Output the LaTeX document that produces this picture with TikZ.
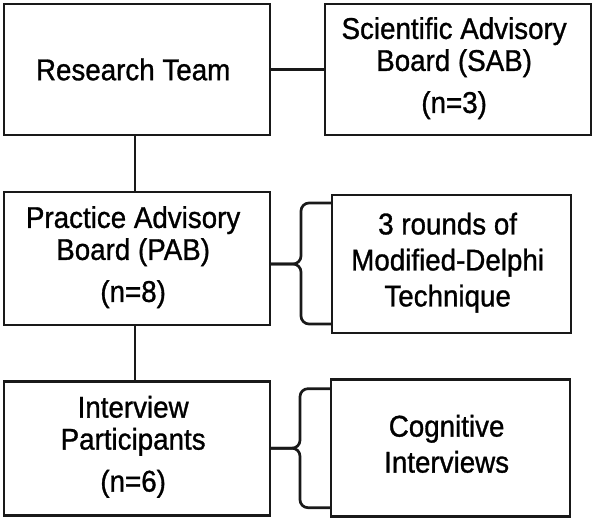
\documentclass[tikz,border=0pt]{standalone}
\usepackage{fontspec}
\setmainfont{Liberation Sans}[FakeStretch=0.925, FakeBold=1]
\usetikzlibrary{matrix}
\newcommand{\boxlines}[1]{\begin{tabular}{@{}c@{}}#1\end{tabular}}

\begin{document}
\begin{tikzpicture}[
  panel/.style={draw=black!90, line width=2.7pt, align=center, inner sep=0pt, anchor=center,
    font=\fontsize{30pt}{32pt}\selectfont},
  link/.style={draw=black!90, line width=2.7pt},
  bracket/.style={draw=black!90, line width=2.7pt, rounded corners=8pt}
]
\useasboundingbox (0,0) rectangle (594pt,-521pt);
\matrix (m) [matrix of nodes, anchor=north west, inner sep=0pt, outer sep=0pt,
  row sep=44pt, column sep=52.3pt, nodes={panel}] at (2.65pt,-2.65pt)
{
	|[minimum width=266pt, minimum height=131pt]| Research Team &
	|[minimum width=266pt, minimum height=131pt]| \boxlines{Scientific Advisory\\ Board (SAB)\\[10pt] (n=3)} \\[10.3pt]
	|[minimum width=266pt, minimum height=133pt, yshift=2.5pt]| \boxlines{Practice Advisory\\ Board (PAB)\\[10pt] (n=8)} &
	|[minimum width=239pt, minimum height=138pt, xshift=-6.5pt, yshift=-3pt]| \boxlines{3 rounds of\\[4pt] Modified-Delphi\\[4pt] Technique} \\
	|[minimum width=266pt, minimum height=134pt]| \boxlines{Interview\\ Participants\\[10pt] (n=6)} &
	|[minimum width=239pt, minimum height=137pt, xshift=-7.5pt]| \boxlines{Cognitive\\[4pt] Interviews} \\
};
\path[link]
(m-1-1) edge (m-1-2)
([xshift=-2pt]m-1-1.south) edge ([xshift=-2pt]m-2-1.north)
([xshift=-2pt]m-2-1.south) edge ([xshift=-2pt]m-3-1.north)
;
% braces
\draw[bracket] ([yshift=-8pt]m-2-2.north west) -| ([xshift=-31pt]m-2-2.west) -- (m-2-1.east |- m-2-2.west);
\draw[bracket] ([yshift=9pt]m-2-2.south west) -| ([xshift=-31pt]m-2-2.west) -- (m-2-1.east |- m-2-2.west);
\draw[bracket] ([yshift=-9pt]m-3-2.north west) -| ([xshift=-31pt]m-3-2.west) -- (m-3-1.east |- m-3-2.west);
\draw[bracket] ([yshift=9pt]m-3-2.south west) -| ([xshift=-31pt]m-3-2.west) -- (m-3-1.east |- m-3-2.west);
\end{tikzpicture}
\end{document}
